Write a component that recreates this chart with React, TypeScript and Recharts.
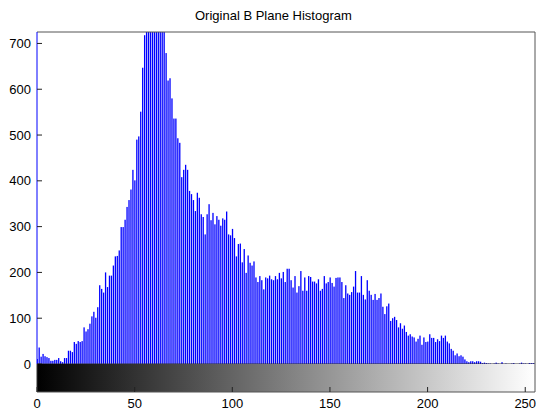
import React from "react";
import { BarChart, Bar, XAxis, YAxis } from "recharts";

// Pixel counts of the blue plane, one entry per intensity level 0..255 (peak is clipped in the original)
const counts = [
  11, 36, 16, 22, 17, 15, 13, 7, 7, 9, 9, 13, 6, 4, 13, 13,
  29, 29, 26, 48, 44, 50, 48, 50, 80, 71, 76, 88, 104, 114, 101, 124,
  172, 164, 156, 200, 168, 193, 193, 215, 235, 236, 248, 299, 299, 315, 343, 358,
  381, 424, 401, 490, 497, 551, 647, 718, 790, 840, 900, 860, 950, 910, 880, 830,
  800, 760, 679, 619, 624, 580, 536, 536, 493, 483, 408, 424, 435, 424, 378, 371,
  358, 334, 374, 363, 327, 321, 283, 327, 349, 314, 330, 305, 323, 315, 302, 318,
  315, 333, 283, 281, 295, 275, 235, 262, 263, 222, 251, 199, 237, 221, 215, 224,
  189, 179, 192, 183, 163, 189, 187, 193, 185, 183, 192, 185, 199, 187, 201, 179,
  208, 208, 183, 167, 192, 156, 170, 203, 160, 189, 160, 192, 190, 180, 180, 176,
  185, 160, 164, 192, 176, 179, 189, 177, 169, 188, 189, 189, 179, 144, 172, 154,
  151, 157, 169, 203, 156, 156, 192, 151, 141, 183, 160, 151, 140, 153, 140, 144,
  154, 125, 109, 126, 132, 94, 100, 103, 96, 80, 89, 77, 84, 70, 62, 65,
  60, 58, 49, 55, 62, 42, 58, 48, 49, 65, 57, 57, 48, 54, 50, 62,
  57, 62, 49, 45, 33, 29, 19, 23, 17, 19, 16, 10, 6, 4, 6, 6,
  4, 6, 6, 5, 2, 3, 2, 1, 1, 0, 1, 3, 1, 0, 4, 0,
  1, 0, 0, 1, 2, 0, 0, 1, 3, 1, 1, 0, 2, 2, 2, 1,
];
const xTicks = [0, 50, 100, 150, 200, 250];
const yTicks = [0, 100, 200, 300, 400, 500, 600, 700];
const xDomain = [0, 255];
const yDomain = [0, 725];
const title = "Original B Plane Histogram";

const data = counts.map((c, i) => ({ level: i, count: c }));
// the gray colorbar under the axes: one bar running across the whole intensity range
const rampData = [{ name: "gray", span: xDomain[1] }];

const font = "'Liberation Sans', Arial, Helvetica, sans-serif";
const tickStyle = { fontSize: 13, fill: "#000", fontFamily: font };
const frame = "#555";

// one thin stem per level, like MATLAB's imhist
function Stem(p: any) {
  if (!p.height || p.height <= 0) return null;
  const cx = p.x + (p.width || 0) / 2;
  return <rect x={cx - 0.65} y={p.y} width={1.3} height={p.height} fill="#0000ff" />;
}

function Ramp(p: any) {
  return (
    <g>
      <defs>
        <linearGradient id="grayRamp" x1="0" y1="0" x2="1" y2="0">
          <stop offset="0%" stopColor="#000" />
          <stop offset="100%" stopColor="#fff" />
        </linearGradient>
      </defs>
      <rect x={p.x} y={p.y} width={p.width} height={p.height} fill="url(#grayRamp)" />
    </g>
  );
}

export default function App() {
  return (
    <div style={{ position: "absolute", left: 0, top: 0, width: 536, height: 412, background: "#fff" }}>
      <div
        style={{
          position: "absolute", left: 195, top: 9, fontFamily: font, fontSize: 13,
          lineHeight: "13px", color: "#000", whiteSpace: "nowrap",
        }}
      >
        {title}
      </div>

      <div style={{ position: "absolute", left: 0, top: 0 }}>
        <BarChart width={536} height={412} data={data} margin={{ top: 31, right: 0, bottom: 47, left: 0 }}>
          <XAxis
            dataKey="level" type="number" domain={xDomain} ticks={xTicks} allowDataOverflow
            height={1} tick={false} tickSize={-5} tickLine={{ stroke: "#222" }} axisLine={{ stroke: "#333" }}
          />
          <XAxis
            xAxisId="top" orientation="top" type="number" domain={xDomain} ticks={xTicks} allowDataOverflow
            height={1} tick={false} tickSize={-5} tickLine={{ stroke: "#222" }} axisLine={{ stroke: frame }}
          />
          <YAxis
            type="number" domain={yDomain} ticks={yTicks} allowDataOverflow width={37}
            tickSize={-5} tickMargin={11} tick={tickStyle} tickLine={{ stroke: "#222" }} axisLine={{ stroke: "#0000ff" }}
          />
          <YAxis
            yAxisId="r" orientation="right" type="number" domain={yDomain} ticks={yTicks} allowDataOverflow width={1}
            tick={false} tickSize={-5} tickLine={{ stroke: "#222" }} axisLine={{ stroke: frame }}
          />
          <Bar dataKey="count" shape={Stem} isAnimationActive={false} />
        </BarChart>
      </div>

      <div style={{ position: "absolute", left: 0, top: 363 }}>
        <BarChart
          width={536} height={49} data={rampData} layout="vertical" barCategoryGap={0}
          margin={{ top: 0, right: 0, bottom: 0, left: 0 }}
        >
          <XAxis
            type="number" domain={xDomain} ticks={xTicks} allowDataOverflow
            height={20} tickSize={-5} tickMargin={12} tick={tickStyle} tickLine={{ stroke: "#222" }} axisLine={{ stroke: frame }}
          />
          <XAxis
            xAxisId="top" orientation="top" type="number" domain={xDomain} ticks={xTicks} allowDataOverflow
            height={1} tick={false} tickSize={-5} tickLine={{ stroke: "#222" }} axisLine={false}
          />
          <YAxis type="category" dataKey="name" width={37} tick={false} tickLine={false} axisLine={{ stroke: "#333" }} />
          <YAxis yAxisId="r" orientation="right" type="category" dataKey="name" width={1} tick={false} tickLine={false} axisLine={{ stroke: frame }} />
          <Bar dataKey="span" shape={Ramp} isAnimationActive={false} />
        </BarChart>
      </div>
    </div>
  );
}
